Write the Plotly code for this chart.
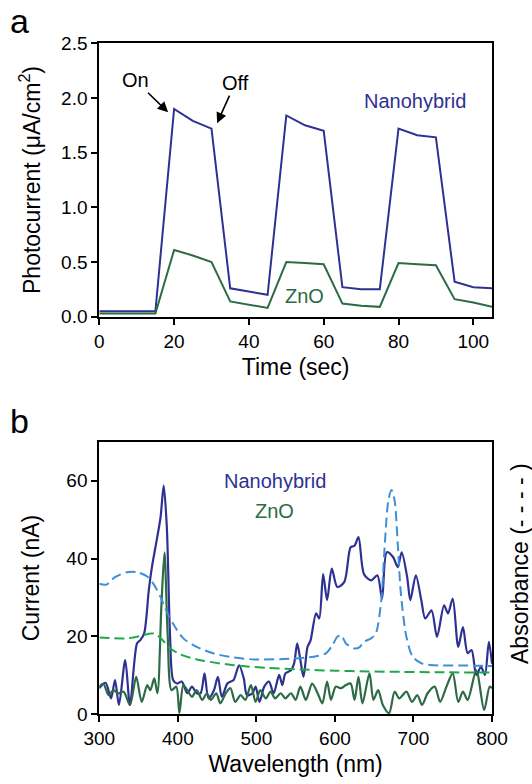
import plotly.graph_objects as go

# ---------------- Panel a: photocurrent vs time ----------------
time_s = [0, 15, 20, 25, 30, 35, 45, 50, 55, 60, 65, 70, 75, 80, 85, 90, 95, 100, 105]
nano_photocurrent = [0.05, 0.05, 1.90, 1.79, 1.72, 0.26, 0.20, 1.84, 1.75, 1.70, 0.27, 0.25, 0.25,
                     1.72, 1.66, 1.64, 0.32, 0.27, 0.26]
zno_photocurrent = [0.03, 0.03, 0.61, 0.56, 0.50, 0.14, 0.08, 0.50, 0.49, 0.48, 0.12, 0.10, 0.09,
                    0.49, 0.48, 0.47, 0.16, 0.13, 0.09]

# ---------------- Panel b: spectral response ----------------
nano_wl = [300, 308, 315, 320, 325, 333, 339, 348, 352, 357, 363, 367, 373, 378, 382, 386, 390, 394,
           399, 405, 412, 418, 424, 429, 434, 439, 446, 451, 456, 463, 467, 471, 478, 484, 488, 495,
           499, 504, 510, 516, 522, 529, 533, 537, 544, 548, 552, 556, 560, 565, 569, 576, 580, 585,
           590, 596, 603, 612, 620, 625, 630, 637, 646, 654, 660, 666, 674, 680, 685, 692, 696, 703,
           710, 715, 723, 730, 739, 744, 750, 757, 763, 769, 774, 780, 786, 791, 796, 800]
nano_current = [6.7, 8.1, 4.1, 8.8, 2.4, 13.9, 2.4, 18.2, 19.0, 20.7, 31.8, 37.8, 44.6, 50.6, 58.7,
                48.0, 20.7, 8.8, 7.9, 8.4, 5.4, 7.1, 5.4, 5.4, 10.5, 4.1, 6.2, 9.6, 4.5, 7.9, 8.4,
                8.8, 12.6, 9.2, 4.9, 5.4, 7.1, 3.2, 7.1, 8.4, 5.4, 10.1, 7.5, 10.5, 11.3, 13.0, 18.2,
                14.0, 9.6, 17.2, 19.0, 25.9, 24.6, 36.0, 29.3, 37.4, 32.7, 34.0, 42.9, 43.3, 45.5,
                36.0, 34.4, 35.7, 29.7, 41.6, 40.4, 37.8, 41.6, 35.2, 29.3, 35.7, 29.3, 24.6, 26.7,
                19.9, 28.0, 25.9, 29.7, 17.3, 22.4, 15.7, 16.5, 10.1, 12.2, 10.1, 18.6, 13.0]

zno_wl = [300, 305, 312, 318, 324, 331, 339, 347, 354, 361, 365, 370, 374, 379, 383, 387, 392, 398,
          402, 407, 412, 418, 424, 431, 437, 442, 449, 454, 461, 467, 473, 480, 486, 493, 499, 505,
          512, 518, 524, 531, 537, 544, 550, 556, 563, 571, 578, 584, 590, 595, 601, 608, 614, 620,
          625, 630, 635, 644, 649, 655, 661, 669, 676, 682, 691, 698, 705, 711, 718, 727, 734, 742,
          750, 757, 763, 769, 780, 790, 797, 800]
zno_current = [7.1, 7.9, 4.9, 6.2, 5.4, 5.8, 2.4, 9.6, 3.2, 7.5, 6.2, 9.2, 5.4, 27.6, 41.6, 20.7,
               6.2, 7.1, 0.3, 7.5, 6.2, 4.5, 6.2, 3.7, 5.4, 3.7, 5.4, 2.8, 5.4, 6.7, 3.2, 4.9, 3.7,
               7.5, 3.2, 6.2, 4.1, 5.8, 4.1, 5.4, 4.1, 5.4, 3.7, 7.1, 3.7, 7.9, 5.4, 2.8, 8.4, 3.7,
               7.1, 6.7, 7.5, 7.9, 3.7, 9.6, 2.8, 10.5, 3.7, 6.2, 2.4, 0.3, 5.8, 4.1, 5.8, 3.2, 4.9,
               2.4, 5.4, 7.1, 3.2, 7.1, 10.5, 3.2, 5.8, 3.7, 11.3, 1.1, 7.1, 6.7]

nano_abs_wl = [300, 309, 320, 335, 348, 361, 369, 378, 386, 395, 407, 424, 446, 471, 497, 548, 573,
               588, 597, 603, 608, 614, 625, 631, 637, 646, 652, 659, 663, 668, 672, 676, 680, 684,
               691, 699, 710, 727, 769, 800]
nano_absorbance = [0.335, 0.333, 0.352, 0.365, 0.365, 0.354, 0.335, 0.301, 0.263, 0.229, 0.195,
                   0.173, 0.156, 0.146, 0.141, 0.143, 0.148, 0.156, 0.178, 0.199, 0.203, 0.182,
                   0.169, 0.172, 0.186, 0.195, 0.207, 0.293, 0.420, 0.549, 0.576, 0.549, 0.438,
                   0.310, 0.199, 0.148, 0.131, 0.126, 0.125, 0.124]

zno_abs_wl = [300, 314, 335, 352, 363, 371, 380, 388, 403, 429, 471, 514, 556, 599, 642, 684, 727, 800]
zno_absorbance = [0.197, 0.196, 0.195, 0.201, 0.207, 0.207, 0.192, 0.173, 0.154, 0.139, 0.126,
                  0.119, 0.115, 0.112, 0.110, 0.109, 0.108, 0.107]

NAVY = "#2E3192"
DKGREEN = "#2C6B45"
LTBLUE = "#3F8FD8"
LTGREEN = "#1FA84A"
FONT = "Liberation Sans, Arial, sans-serif"

W, H = 532, 784


def px_x(p):
    return p / W


def px_y(p):
    return 1 - p / H


fig = go.Figure()

fig.add_trace(go.Scatter(x=time_s, y=nano_photocurrent, mode="lines", name="Nanohybrid",
                         line=dict(color=NAVY, width=2), xaxis="x", yaxis="y"))
fig.add_trace(go.Scatter(x=time_s, y=zno_photocurrent, mode="lines", name="ZnO",
                         line=dict(color=DKGREEN, width=2), xaxis="x", yaxis="y"))

fig.add_trace(go.Scatter(x=nano_abs_wl, y=nano_absorbance, mode="lines", name="Nanohybrid absorbance",
                         line=dict(color=LTBLUE, width=2, dash="10px,5px", shape="spline", smoothing=0.8),
                         xaxis="x2", yaxis="y3"))
fig.add_trace(go.Scatter(x=zno_abs_wl, y=zno_absorbance, mode="lines", name="ZnO absorbance",
                         line=dict(color=LTGREEN, width=2, dash="10px,5px", shape="spline", smoothing=0.8),
                         xaxis="x2", yaxis="y3"))
fig.add_trace(go.Scatter(x=nano_wl, y=nano_current, mode="lines", name="Nanohybrid current",
                         line=dict(color=NAVY, width=2.2, shape="spline", smoothing=0.8),
                         xaxis="x2", yaxis="y2"))
fig.add_trace(go.Scatter(x=zno_wl, y=zno_current, mode="lines", name="ZnO current",
                         line=dict(color=DKGREEN, width=2.2, shape="spline", smoothing=0.8),
                         xaxis="x2", yaxis="y2"))

axis_common = dict(showline=True, linecolor="black", linewidth=2, mirror=True, ticks="outside",
                   ticklen=6, tickwidth=2, tickcolor="black", showgrid=False, zeroline=False,
                   automargin=False,
                   tickfont=dict(family=FONT, size=19, color="black"))

xdom = [px_x(99.3), px_x(492)]

fig.update_layout(
    width=W, height=H, autosize=False,
    margin=dict(l=0, r=0, t=0, b=0),
    paper_bgcolor="white", plot_bgcolor="white",
    showlegend=False,
    font=dict(family=FONT, color="black"),
    xaxis=dict(domain=xdom, range=[0, 105], dtick=20, tick0=0, anchor="y",
               title=dict(text="Time (sec)", font=dict(size=23), standoff=8), **axis_common),
    yaxis=dict(domain=[px_y(316.7), px_y(43.3)], range=[0, 2.5], dtick=0.5, tickformat=".1f",
               anchor="x",
               title=dict(text="Photocurrent (μA/cm<sup>2</sup>)", font=dict(size=23), standoff=14),
               **axis_common),
    xaxis2=dict(domain=xdom, range=[300, 800], dtick=100, anchor="y2",
                title=dict(text="Wavelength (nm)", font=dict(size=23), standoff=8), **axis_common),
    yaxis2=dict(domain=[px_y(714.3), px_y(441.7)], range=[0, 70], tickvals=[0, 20, 40, 60],
                anchor="x2",
                title=dict(text="Current (nA)", font=dict(size=23), standoff=20), **axis_common),
    yaxis3=dict(overlaying="y2", side="right", anchor="x2", range=[0, 0.7], automargin=False,
                showticklabels=False, ticks="", showgrid=False, zeroline=False, showline=False),
)

ann = []
ann.append(dict(text="a", x=px_x(19), y=px_y(21), xref="paper", yref="paper", showarrow=False,
                xanchor="center", yanchor="middle",
                font=dict(size=34, family=FONT, color="black")))
ann.append(dict(text="b", x=px_x(19), y=px_y(421), xref="paper", yref="paper", showarrow=False,
                xanchor="center", yanchor="middle",
                font=dict(size=34, family=FONT, color="black")))
# On / Off labels with arrows pointing at the switching points
ann.append(dict(text="On", x=18.4, y=1.87, xref="x", yref="y", showarrow=True, ax=-33, ay=-32,
                arrowhead=2, arrowsize=1.3, arrowwidth=1.6, arrowcolor="black",
                font=dict(size=20, family=FONT, color="black")))
ann.append(dict(text="Off", x=31.5, y=1.77, xref="x", yref="y", showarrow=True, ax=18, ay=-40,
                arrowhead=2, arrowsize=1.3, arrowwidth=1.6, arrowcolor="black",
                font=dict(size=20, family=FONT, color="black")))
ann.append(dict(text="Nanohybrid", x=84.5, y=1.97, xref="x", yref="y", showarrow=False,
                font=dict(size=20, family=FONT, color=NAVY)))
ann.append(dict(text="ZnO", x=54.8, y=0.19, xref="x", yref="y", showarrow=False,
                font=dict(size=20, family=FONT, color=DKGREEN)))
ann.append(dict(text="Nanohybrid", x=524, y=60, xref="x2", yref="y2", showarrow=False,
                font=dict(size=20, family=FONT, color=NAVY)))
ann.append(dict(text="ZnO", x=523, y=52.3, xref="x2", yref="y2", showarrow=False,
                font=dict(size=20, family=FONT, color=DKGREEN)))
ann.append(dict(text="Absorbance (- - - - )", x=px_x(520), y=px_y(564), xref="paper", yref="paper",
                showarrow=False, textangle=-90, xanchor="center", yanchor="middle",
                font=dict(size=23, family=FONT, color="black")))
fig.update_layout(annotations=ann)

fig.write_html("out.html", config={"displayModeBar": False},
               post_script="document.body.style.margin='0';document.body.style.overflow='hidden';")
